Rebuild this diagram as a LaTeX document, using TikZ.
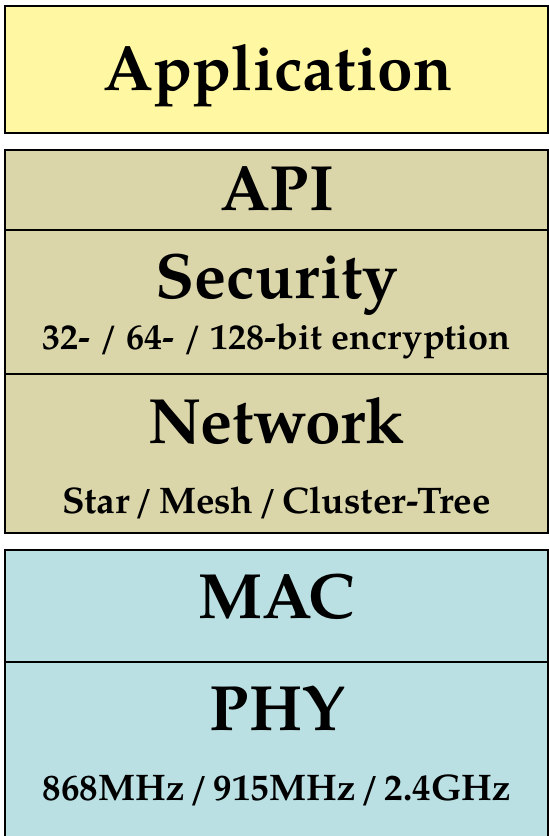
\documentclass[tikz,border=0pt]{standalone}
\usepackage{fontspec}
\setmainfont{TeX Gyre Pagella}
\definecolor{appyellow}{HTML}{FFF7A1}
\definecolor{stackkhaki}{HTML}{DBD6AA}
\definecolor{radioteal}{HTML}{BAE0E3}
% a narrow gap round the slashes in the option lists
\newcommand{\optsep}{\hspace{0.14em}/\hspace{0.14em}}
\tikzset{
  layerbox/.style={draw=black, line width=2pt},
  divider/.style={draw=black, line width=2pt},
  title/.style={anchor=base, inner sep=0pt, font=\fontsize{64}{64}\selectfont\bfseries},
  subtitle/.style={anchor=base, inner sep=0pt, font=\fontsize{35}{35}\selectfont\bfseries},
}
\begin{document}
\begin{tikzpicture}[x=1pt, y=-1pt]
  \useasboundingbox (0,0) rectangle (549,836);
  % application layer
  \draw[layerbox, fill=appyellow] (5,6) rectangle (547.5,133);
  % ZigBee stack: API, security, network
  \draw[layerbox, fill=stackkhaki] (5,150) rectangle (547.5,533);
  \draw[divider] (5,230) -- (547.5,230);
  \draw[divider] (5,374) -- (547.5,374);
  % IEEE 802.15.4: MAC and PHY
  \draw[layerbox, fill=radioteal] (5,550) rectangle (547.5,845);
  \draw[divider] (5,662) -- (547.5,662);

  \node[title] (app) at (278,90) {Application};
  \node[title] (api) at (277,210) {API};
  \node[title] (sec) at (277,298) {Security};
  \node[subtitle, font=\fontsize{36}{36}\selectfont\bfseries] (enc) at (276.5,349) {32- / 64- / 128-bit encryption};
  \node[title] (net) at (276.5,443) {Network};
  \node[subtitle, font=\fontsize{37}{37}\selectfont\bfseries] (topo) at (276.5,513) {Star\optsep Mesh\optsep Cluster-Tree};
  \node[title] (mac) at (276.5,618) {MAC};
  \node[title] (phy) at (277.5,730) {PHY};
  \node[subtitle, font=\fontsize{37}{37}\selectfont\bfseries] (band) at (277,800) {868MHz\optsep 915MHz\optsep 2.4GHz};
\end{tikzpicture}
\end{document}
